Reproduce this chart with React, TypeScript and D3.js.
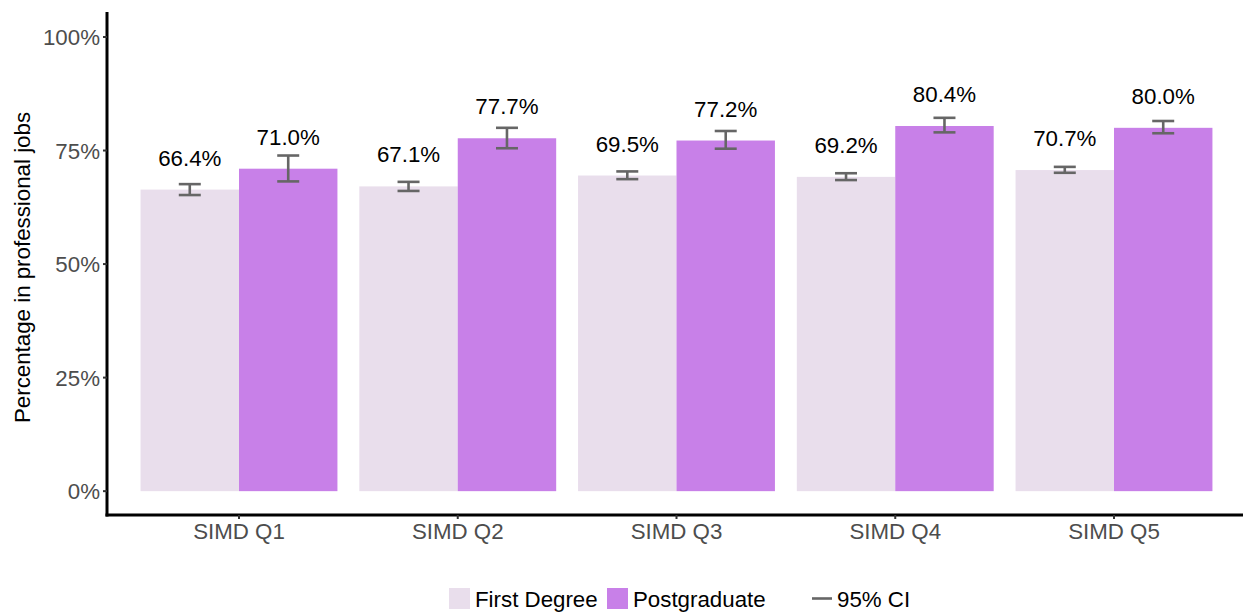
import React from "react";
import * as d3 from "d3";

const categories = ["SIMD Q1", "SIMD Q2", "SIMD Q3", "SIMD Q4", "SIMD Q5"];
const groups = ["First Degree", "Postgraduate"];
const firstDegree = [66.4, 67.1, 69.5, 69.2, 70.7];
const firstDegreeLow = [65.2, 66.1, 68.7, 68.5, 70.1];
const firstDegreeHigh = [67.6, 68.1, 70.4, 70.0, 71.4];
const postgraduate = [71.0, 77.7, 77.2, 80.4, 80.0];
const postgraduateLow = [68.2, 75.5, 75.4, 79.0, 78.8];
const postgraduateHigh = [73.9, 80.0, 79.3, 82.2, 81.5];
const yTicks = [0, 25, 50, 75, 100];

const W = 1243;
const H = 614;
const FONT = "Liberation Sans, Arial, sans-serif";
const colors = ["#E9DEEC", "#C880E8"];
const ciColor = "#666666";
const FS = 22.3;

export default function App() {
  const left = 107;
  const top = 12;
  const bottom = 515;

  // ggplot-like discrete expansion of 0.6 units
  const x = d3
    .scaleLinear()
    .domain([0.4, categories.length + 0.6])
    .range([left + 0.75, 1245.25]);
  const y = d3.scaleLinear().domain([-5.25, 105.5]).range([bottom, top]);
  const unit = x(2) - x(1);
  const barW = unit * 0.45;

  const series = [
    { vals: firstDegree, lo: firstDegreeLow, hi: firstDegreeHigh },
    { vals: postgraduate, lo: postgraduateLow, hi: postgraduateHigh },
  ];

  return (
    <svg
      width={W}
      height={H}
      style={{ position: "absolute", left: 0, top: 0, background: "#fff" }}
      fontFamily={FONT}
    >
      <rect x={0} y={0} width={W} height={H} fill="#fff" />
      {/* bars */}
      {categories.map((c, i) => {
        const cx = x(i + 1);
        return (
          <g key={c}>
            {series.map((s, g) => {
              const x0 = g === 0 ? cx - barW : cx;
              const v = s.vals[i];
              return (
                <rect
                  key={g}
                  x={x0}
                  y={y(v)}
                  width={barW}
                  height={y(0) - y(v)}
                  fill={colors[g]}
                />
              );
            })}
          </g>
        );
      })}
      {/* error bars and labels */}
      {categories.map((c, i) => {
        const cx = x(i + 1);
        return (
          <g key={"e" + c}>
            {series.map((s, g) => {
              const x0 = g === 0 ? cx - barW : cx;
              const mid = x0 + barW / 2;
              const v = s.vals[i];
              const lo = y(s.lo[i]);
              const hi = y(s.hi[i]);
              const hw = 11;
              return (
                <g key={g}>
                  <line x1={mid} x2={mid} y1={lo} y2={hi} stroke={ciColor} strokeWidth={2.6} />
                  <line x1={mid - hw} x2={mid + hw} y1={lo} y2={lo} stroke={ciColor} strokeWidth={2.6} />
                  <line x1={mid - hw} x2={mid + hw} y1={hi} y2={hi} stroke={ciColor} strokeWidth={2.6} />
                  <text
                    x={mid}
                    y={y(v) - 24}
                    textAnchor="middle"
                    fontSize={FS}
                    fill="#000"
                  >
                    {v.toFixed(1) + "%"}
                  </text>
                </g>
              );
            })}
          </g>
        );
      })}
      {/* y axis */}
      <line x1={left} x2={left} y1={top} y2={bottom + 1.5} stroke="#000" strokeWidth={3} />
      {yTicks.map((t) => (
        <g key={t}>
          <line x1={left - 4} x2={left} y1={y(t)} y2={y(t)} stroke="#333" strokeWidth={2} />
          <text
            x={left - 7}
            y={y(t)}
            dy="0.36em"
            textAnchor="end"
            fontSize={FS}
            fill="#4d4d4d"
          >
            {t + "%"}
          </text>
        </g>
      ))}
      {/* x axis */}
      <line x1={left - 1.5} x2={W} y1={bottom} y2={bottom} stroke="#000" strokeWidth={3} />
      {categories.map((c, i) => (
        <g key={"t" + c}>
          <line x1={x(i + 1)} x2={x(i + 1)} y1={bottom} y2={bottom + 4} stroke="#333" strokeWidth={2} />
          <text
            x={x(i + 1)}
            y={bottom + 24}
            textAnchor="middle"
            fontSize={FS}
            fill="#4d4d4d"
          >
            {c}
          </text>
        </g>
      ))}
      {/* y title */}
      <text
        transform={`translate(30, ${(top + bottom) / 2 + 4}) rotate(-90)`}
        textAnchor="middle"
        fontSize={FS}
        fill="#000"
      >
        Percentage in professional jobs
      </text>
      {/* legend */}
      <g>
        <rect x={449} y={588} width={21} height={21} fill={colors[0]} />
        <text x={475} y={599} dy="0.36em" fontSize={FS} fill="#000">
          {groups[0]}
        </text>
        <rect x={607} y={588} width={21} height={21} fill={colors[1]} />
        <text x={633} y={599} dy="0.36em" fontSize={FS} fill="#000">
          {groups[1]}
        </text>
        <line x1={812} x2={832} y1={598.5} y2={598.5} stroke={ciColor} strokeWidth={2.6} />
        <text x={837} y={599} dy="0.36em" fontSize={FS} fill="#000">
          95% CI
        </text>
      </g>
    </svg>
  );
}
